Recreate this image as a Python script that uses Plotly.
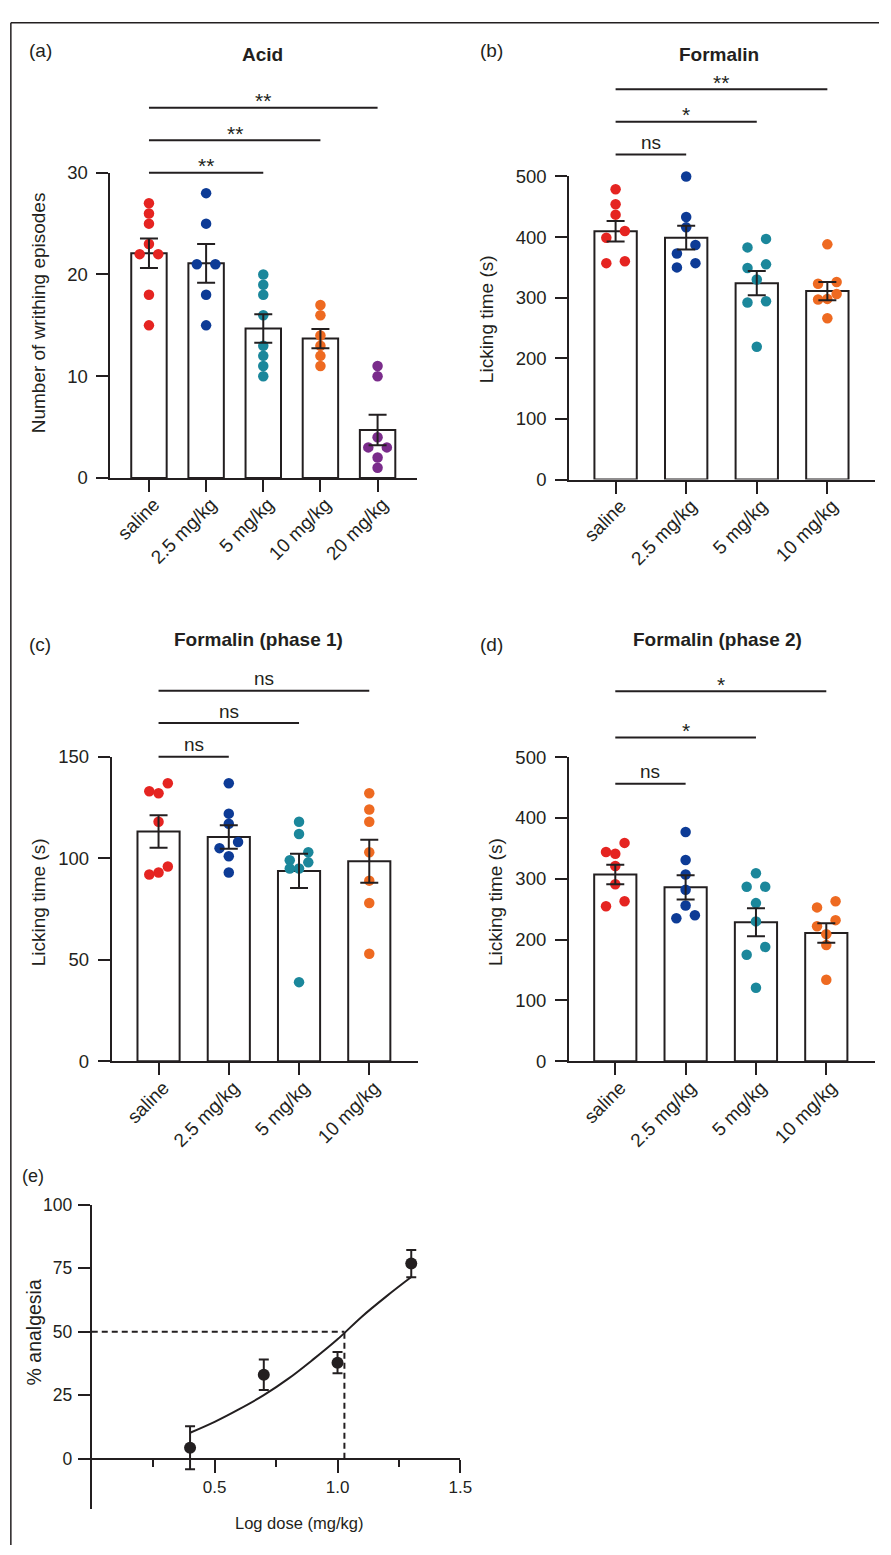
import plotly.graph_objects as go

# ---------------- data ----------------
acid_groups = ["saline", "2.5 mg/kg", "5 mg/kg", "10 mg/kg", "20 mg/kg"]
acid_mean = [22.1, 21.1, 14.7, 13.7, 4.7]
acid_sem = [1.45, 1.9, 1.4, 0.95, 1.5]
acid_points = [
    [27, 26, 25, 23, 22, 22, 18, 15],
    [28, 25, 21, 21, 18, 15],
    [20, 19, 18, 16, 13, 12, 11, 10],
    [17, 16, 14, 13, 12, 11],
    [11, 10, 4, 3, 3, 2, 1],
]
acid_sig = [(0, 2, "**"), (0, 3, "**"), (0, 4, "**")]

form_groups = ["saline", "2.5 mg/kg", "5 mg/kg", "10 mg/kg"]
form_mean = [409.5, 399, 324, 311]
form_sem = [17, 19.5, 20, 15]
form_points = [
    [479, 454, 437, 410, 399, 360, 357],
    [500, 433, 416, 387, 373, 357, 350],
    [397, 383, 355, 349, 330, 294, 292, 219],
    [388, 326, 323, 306, 298, 297, 266],
]
form_sig = [(0, 1, "ns"), (0, 2, "*"), (0, 3, "**")]

ph1_mean = [113.2, 110.5, 93.8, 98.5]
ph1_sem = [8.0, 5.8, 8.4, 10.6]
ph1_points = [
    [137, 133, 132, 118, 96, 93, 92],
    [137, 122, 117, 108, 105, 101, 93],
    [118, 112, 103, 99, 98, 95, 95, 39],
    [132, 124, 118, 103, 89, 78, 53],
]
ph1_sig = [(0, 1, "ns"), (0, 2, "ns"), (0, 3, "ns")]

ph2_mean = [307, 286, 228.6, 210.8]
ph2_sem = [16, 20, 23, 16]
ph2_points = [
    [359, 344, 341, 321, 291, 263, 255],
    [377, 331, 307, 282, 256, 240, 235],
    [309, 287, 287, 260, 230, 188, 175, 121],
    [263, 253, 232, 222, 209, 191, 134],
]
ph2_sig = [(0, 1, "ns"), (0, 2, "*"), (0, 3, "*")]

dose_log = [0.40, 0.70, 1.00, 1.30]
analgesia = [4.3, 33.0, 37.8, 76.8]
analgesia_sem = [8.5, 6.0, 4.2, 5.4]
fit_x = [0.40, 0.50, 0.60, 0.70, 0.80, 0.90, 1.00, 1.10, 1.20, 1.30]
fit_y = [10.2, 14.5, 19.5, 25.0, 31.5, 39.0, 47.0, 56.0, 64.0, 71.5]
ed50_log = 1.028
half_effect = 50

# ---------------- style / layout ----------------
W, H = 891, 1555
INK = "#231f20"
FONT = "Arial, Liberation Sans, Helvetica, sans-serif"
GROUP_COLORS = ["#e52421", "#0d3b96", "#1b879b", "#ee6a21", "#7a2c8b"]
DOT = 10.5


def px2x(px):
    return px / W


def px2y(py):
    return 1 - py / H


bar_panels = [
    dict(box=(112, 423, 164, 473.3), xr=[-0.673, 4.695], yr=[0, 30], yt=[0, 10, 20, 30],
         groups=acid_groups, mean=acid_mean, sem=acid_sem, pts=acid_points, sig=acid_sig,
         sig_levels=[30.0, 33.2, 36.4], bw=0.62, title="Acid", title_xy=(266, 44),
         label="(a)", label_xy=(41, 40), ytitle="Number of writhing episodes", ytitle_xy=(39, 306)),
    dict(box=(577, 887.3, 167.7, 475), xr=[-0.657, 3.68], yr=[0, 500], yt=[0, 100, 200, 300, 400, 500],
         groups=form_groups, mean=form_mean, sem=form_sem, pts=form_points, sig=form_sig,
         sig_levels=[536, 590, 644], bw=0.6, title="Formalin", title_xy=(729, 44),
         label="(b)", label_xy=(498, 40), ytitle="Licking time (s)", ytitle_xy=(493, 312)),
    dict(box=(113.3, 423.3, 756, 1064.7), xr=[-0.666, 3.688], yr=[0, 150], yt=[0, 50, 100, 150],
         groups=form_groups, mean=ph1_mean, sem=ph1_sem, pts=ph1_points, sig=ph1_sig,
         sig_levels=[150, 166.6, 182.5], bw=0.6, title="Formalin (phase 1)", title_xy=(262, 637),
         label="(c)", label_xy=(41, 642), ytitle="Licking time (s)", ytitle_xy=(39, 903)),
    dict(box=(576.7, 886.7, 756.3, 1064.7), xr=[-0.659, 3.689], yr=[0, 500], yt=[0, 100, 200, 300, 400, 500],
         groups=form_groups, mean=ph2_mean, sem=ph2_sem, pts=ph2_points, sig=ph2_sig,
         sig_levels=[456, 532, 608], bw=0.6, title="Formalin (phase 2)", title_xy=(727, 637),
         label="(d)", label_xy=(498, 642), ytitle="Licking time (s)", ytitle_xy=(503, 903)),
]


def swarm_offsets(values, px_per_unit, px_per_cat, step_px=9.4, diam_px=9.5):
    order = sorted(range(len(values)), key=lambda i: -values[i])
    rows = []
    for i in order:
        if rows and (values[rows[-1][0]] - values[i]) * px_per_unit < diam_px:
            rows[-1].append(i)
        else:
            rows.append([i])
    offs = [0.0] * len(values)
    for row in rows:
        row_sorted = sorted(row, key=lambda i: values[i])
        n = len(row_sorted)
        if n % 2:
            slots = [k - (n - 1) // 2 for k in range(n)]
        else:
            h = n // 2
            slots = list(range(-h, 0)) + list(range(1, h + 1))
        for i, s in zip(row_sorted, slots):
            offs[i] = s * step_px / px_per_cat
    return offs


fig = go.Figure()
annotations = []
shapes = []
axes_layout = {}

axis_common = dict(showgrid=False, zeroline=False, showline=True, linewidth=2, linecolor=INK,
                   ticks="outside", ticklen=12, tickwidth=2, tickcolor=INK, fixedrange=True)

for k, p in enumerate(bar_panels, start=1):
    xid = "x" if k == 1 else f"x{k}"
    yid = "y" if k == 1 else f"y{k}"
    xname = "xaxis" if k == 1 else f"xaxis{k}"
    yname = "yaxis" if k == 1 else f"yaxis{k}"
    left, right, top, bottom = p["box"]
    n = len(p["groups"])
    idx = list(range(n))

    axes_layout[xname] = dict(axis_common, domain=[px2x(left), px2x(right)], range=p["xr"],
                              tickvals=idx, ticktext=p["groups"], tickangle=-45, anchor=yid,
                              ticklabelshift=5, ticklabelstandoff=-6,
                              tickfont=dict(size=19, color=INK, family=FONT))
    axes_layout[yname] = dict(axis_common, domain=[px2y(bottom), px2y(top)], range=p["yr"],
                              tickvals=p["yt"], anchor=xid, ticklabelstandoff=5,
                              tickfont=dict(size=18.5, color=INK, family=FONT))

    px_per_unit = (bottom - top) / (p["yr"][1] - p["yr"][0])
    px_per_cat = (right - left) / (p["xr"][1] - p["xr"][0])

    fig.add_trace(go.Bar(x=idx, y=p["mean"], width=p["bw"], xaxis=xid, yaxis=yid,
                         marker=dict(color="white", line=dict(color=INK, width=2)),
                         hoverinfo="skip"))
    for g in range(n):
        vals = p["pts"][g]
        offs = swarm_offsets(vals, px_per_unit, px_per_cat)
        fig.add_trace(go.Scatter(x=[g + o for o in offs], y=vals, mode="markers",
                                 xaxis=xid, yaxis=yid, cliponaxis=False,
                                 marker=dict(size=DOT, color=GROUP_COLORS[g], line=dict(width=0))))
    fig.add_trace(go.Scatter(x=idx, y=p["mean"], mode="markers", xaxis=xid, yaxis=yid,
                             marker=dict(size=1, color="rgba(0,0,0,0)"),
                             error_y=dict(type="data", array=p["sem"], visible=True,
                                          color=INK, thickness=2, width=9)))

    ytop = p["yr"][1]
    for (i, j, lab), lev in zip(p["sig"], p["sig_levels"]):
        frac = lev / ytop
        shapes.append(dict(type="line", xref=xid, yref=f"{yid} domain", x0=i, x1=j, y0=frac, y1=frac,
                           line=dict(color=INK, width=2)))
        is_star = "*" in lab
        annotations.append(dict(xref=xid, yref=f"{yid} domain", x=(i + j) / 2, y=frac,
                                text=lab, showarrow=False, yanchor="middle",
                                yshift=7 if is_star else 12,
                                font=dict(size=21 if is_star else 19, color=INK, family=FONT)))

    tx, ty = p["title_xy"]
    annotations.append(dict(xref="paper", yref="paper", x=px2x(tx), y=px2y(ty), text=f"<b>{p['title']}</b>",
                            showarrow=False, xanchor="center", yanchor="middle",
                            font=dict(size=19, color=INK, family=FONT)))
    lx, ly = p["label_xy"]
    annotations.append(dict(xref="paper", yref="paper", x=px2x(lx), y=px2y(ly), text=p["label"],
                            showarrow=False, xanchor="center", yanchor="middle",
                            font=dict(size=19, color=INK, family=FONT)))
    yx, yy = p["ytitle_xy"]
    annotations.append(dict(xref="paper", yref="paper", x=px2x(yx), y=px2y(yy), text=p["ytitle"],
                            showarrow=False, xanchor="center", yanchor="middle", textangle=-90,
                            font=dict(size=19, color=INK, family=FONT)))

# ---------------- panel (e) ----------------
e_left, e_right, e_top, e_bottom = 93, 466.7, 1210, 1519
e_yr = [-20, 100]
e_zero_py = e_bottom - (0 - e_yr[0]) / (e_yr[1] - e_yr[0]) * (e_bottom - e_top)

axes_layout["xaxis5"] = dict(axis_common, domain=[px2x(e_left), px2x(e_right)], range=[0, 1.5],
                             tickvals=[0.5, 1.0, 1.5], ticktext=["0.5", "1.0", "1.5"],
                             ticklen=13, anchor="free", position=px2y(e_zero_py),
                             minor=dict(tickvals=[0.25, 0.75, 1.25], ticks="outside", ticklen=7,
                                        tickwidth=2, tickcolor=INK),
                             tickfont=dict(size=17, color=INK, family=FONT))
axes_layout["yaxis5"] = dict(axis_common, domain=[px2y(e_bottom), px2y(e_top)], range=e_yr,
                             tickvals=[0, 25, 50, 75, 100], anchor="x5", ticklabelstandoff=2,
                             tickfont=dict(size=17.5, color=INK, family=FONT))

fig.add_trace(go.Scatter(x=fit_x, y=fit_y, mode="lines", xaxis="x5", yaxis="y5",
                         line=dict(color=INK, width=2, shape="spline")))
fig.add_trace(go.Scatter(x=dose_log, y=analgesia, mode="markers", xaxis="x5", yaxis="y5",
                         cliponaxis=False,
                         marker=dict(size=12, color=INK),
                         error_y=dict(type="data", array=analgesia_sem, visible=True,
                                      color=INK, thickness=2, width=5)))
shapes.append(dict(type="line", xref="x5", yref="y5", x0=0, x1=ed50_log, y0=half_effect, y1=half_effect,
                   line=dict(color=INK, width=2, dash="6px,4px")))
shapes.append(dict(type="line", xref="x5", yref="y5", x0=ed50_log, x1=ed50_log, y0=0, y1=half_effect,
                   line=dict(color=INK, width=2, dash="6px,4px")))

annotations.append(dict(xref="paper", yref="paper", x=px2x(33), y=px2y(1181), text="(e)",
                        showarrow=False, xanchor="center", yanchor="middle",
                        font=dict(size=18, color=INK, family=FONT)))
annotations.append(dict(xref="paper", yref="paper", x=px2x(34), y=px2y(1340), text="% analgesia",
                        showarrow=False, xanchor="center", yanchor="middle", textangle=-90,
                        font=dict(size=19.5, color=INK, family=FONT)))
annotations.append(dict(xref="paper", yref="paper", x=px2x(303), y=px2y(1533), text="Log dose (mg/kg)",
                        showarrow=False, xanchor="center", yanchor="middle",
                        font=dict(size=16.5, color=INK, family=FONT)))

# outer frame (top and left edges)
shapes.append(dict(type="line", xref="paper", yref="paper", x0=px2x(11), x1=1, y0=px2y(12), y1=px2y(12),
                   line=dict(color=INK, width=1.5)))
shapes.append(dict(type="line", xref="paper", yref="paper", x0=px2x(11), x1=px2x(11), y0=px2y(12), y1=0,
                   line=dict(color=INK, width=1.5)))

fig.update_layout(
    width=W, height=H, margin=dict(l=0, r=0, t=0, b=0),
    paper_bgcolor="white", plot_bgcolor="white", showlegend=False,
    font=dict(family=FONT, color=INK),
    annotations=annotations, shapes=shapes, **axes_layout,
)

pin_to_corner = (
    "document.documentElement.style.margin='0';"
    "document.body.style.margin='0';document.body.style.overflow='hidden';"
    "var gd=document.getElementById('{plot_id}');"
    "gd.style.position='absolute';gd.style.left='0px';gd.style.top='0px';"
)
fig.write_html("out.html", post_script=pin_to_corner, config={"displayModeBar": False})
